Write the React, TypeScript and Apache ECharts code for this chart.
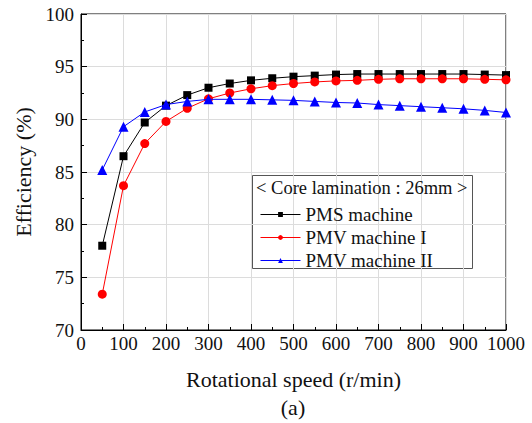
import React, { useEffect, useRef } from "react";
import * as echarts from "echarts";

const speeds = [50, 100, 150, 200, 250, 300, 350, 400, 450, 500, 550, 600, 650, 700, 750, 800, 850, 900, 950, 1000];
const pmsMachine = [78.0, 86.5, 89.7, 91.3, 92.3, 93.0, 93.4, 93.7, 93.9, 94.05, 94.15, 94.25, 94.3, 94.3, 94.3, 94.3, 94.3, 94.3, 94.25, 94.2];
const pmvMachine1 = [73.4, 83.7, 87.7, 89.8, 91.05, 91.95, 92.5, 92.9, 93.2, 93.4, 93.55, 93.65, 93.7, 93.8, 93.85, 93.85, 93.85, 93.85, 93.8, 93.75];
const pmvMachine2 = [85.2, 89.3, 90.7, 91.4, 91.7, 91.9, 91.9, 91.9, 91.85, 91.8, 91.7, 91.6, 91.55, 91.4, 91.3, 91.2, 91.1, 91.0, 90.85, 90.65];
const seriesNames = ["PMS machine", "PMV machine I", "PMV machine II"];
const legendTitle = "< Core lamination : 26mm >";
const xTitle = "Rotational speed (r/min)";
const yTitle = "Efficiency (%)";
const caption = "(a)";

const FONT = "Liberation Serif";

export default function App() {
  const ref = useRef<HTMLDivElement>(null);
  useEffect(() => {
    if (!ref.current) return;
    const chart = echarts.init(ref.current, undefined, { renderer: "svg" });
    const pair = (ys: number[]) => speeds.map((x, i) => [x, ys[i]]);
    const axisCommon = {
      axisLine: { show: true, lineStyle: { color: "#000", width: 1 } },
      axisTick: { show: true, inside: true, length: 6, lineStyle: { color: "#000" } },
      minorTick: { show: true, splitNumber: 2, length: 3, lineStyle: { color: "#000" } },
      splitLine: { show: true, lineStyle: { color: "#dcdcdc", width: 1 } },
      axisLabel: { color: "#111", fontFamily: FONT, fontSize: 19, formatter: (v: number) => String(v) },
    };
    chart.setOption({
      animation: false,
      backgroundColor: "#fff",
      textStyle: { fontFamily: FONT },
      grid: { left: 81, right: 26, top: 14, bottom: 93, show: true, borderColor: "#000", borderWidth: 1 },
      xAxis: {
        type: "value",
        min: 0,
        max: 1000,
        interval: 100,
        ...axisCommon,
        axisLabel: { ...axisCommon.axisLabel, margin: 4 },
        name: xTitle,
        nameLocation: "middle",
        nameGap: 38,
        nameTextStyle: { fontFamily: FONT, fontSize: 22, color: "#111" },
      },
      yAxis: {
        type: "value",
        min: 70,
        max: 100,
        interval: 5,
        ...axisCommon,
        axisLabel: { ...axisCommon.axisLabel, margin: 7 },
        name: yTitle,
        nameLocation: "middle",
        nameGap: 36,
        nameTextStyle: { fontFamily: FONT, fontSize: 22, color: "#111" },
      },
      legend: {
        orient: "vertical",
        left: 255,
        top: 200,
        itemWidth: 40,
        itemHeight: 6,
        itemGap: 4,
        lineStyle: { width: 1 },
        textStyle: { fontFamily: FONT, fontSize: 19, color: "#111" },
        data: seriesNames,
      },
      graphic: [
        {
          type: "rect",
          shape: { x: 252.5, y: 175.5, width: 220, height: 93 },
          style: { fill: "#fff", stroke: "#555", lineWidth: 1 },
          z: 0,
        },
        {
          type: "text",
          x: 256,
          y: 188,
          style: { text: legendTitle, font: `18.5px ${FONT}`, fill: "#111", verticalAlign: "middle" },
          z: 1,
        },
        {
          type: "text",
          x: 293,
          y: 407,
          style: { text: caption, font: `22px ${FONT}`, fill: "#111", align: "center", verticalAlign: "middle" },
        },
      ],
      series: [
        {
          name: seriesNames[0],
          type: "line",
          data: pair(pmsMachine),
          symbol: "rect",
          symbolSize: 8,
          lineStyle: { color: "#000", width: 1 },
          itemStyle: { color: "#000" },
          z: 3,
        },
        {
          name: seriesNames[1],
          type: "line",
          data: pair(pmvMachine1),
          symbol: "circle",
          symbolSize: 9,
          lineStyle: { color: "#ff0000", width: 1 },
          itemStyle: { color: "#ff0000" },
          z: 4,
        },
        {
          name: seriesNames[2],
          type: "line",
          data: pair(pmvMachine2),
          symbol: "triangle",
          symbolSize: 10,
          lineStyle: { color: "#0000ff", width: 1 },
          itemStyle: { color: "#0000ff" },
          z: 5,
        },
      ],
    });
    return () => chart.dispose();
  }, []);
  return <div ref={ref} style={{ width: 532, height: 423, position: "absolute", left: 0, top: 0 }} />;
}
